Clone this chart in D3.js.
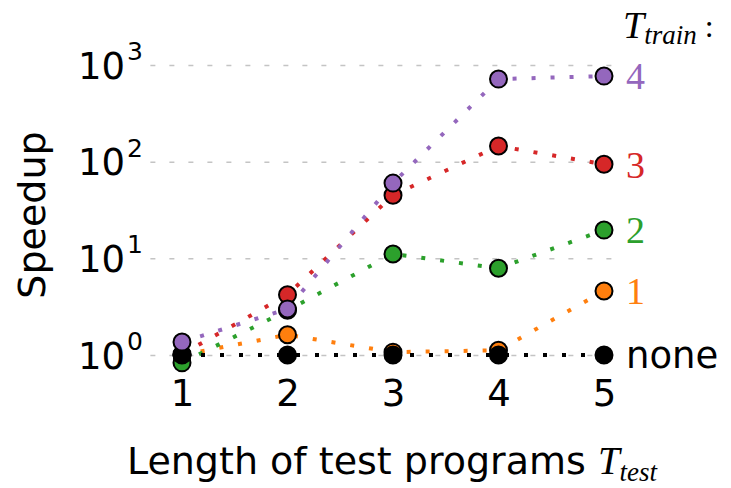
<!DOCTYPE html>
<html>
<head>
<meta charset="utf-8">
<script src="https://cdn.jsdelivr.net/npm/d3@7"></script>
<style>
  body { margin: 0; background: #fff; }
  svg { display: block; }
  .sans { font-family: "DejaVu Sans", sans-serif; }
  .serif { font-family: "Liberation Serif", "DejaVu Serif", serif; }
</style>
</head>
<body>
<svg id="chart" width="731" height="488"></svg>
<script>
// test program lengths
var lengths = [1, 2, 3, 4, 5];

// speedup per training length
var none = [1, 1, 1, 1, 1];
var train1 = [1.0, 1.62, 1.07, 1.12, 4.6];
var train2 = [0.83, 2.9, 11.1, 7.9, 19.6];
var train3 = [1.02, 4.2, 45, 145, 94];
var train4 = [1.36, 3.0, 60, 715, 768];

var yTicks = [1, 10, 100, 1000];
var seriesLabels = ["1", "2", "3", "none", "4"];
var seriesColors = ["#ff7f0e", "#2ca02c", "#d62728", "#000000", "#9467bd"];
var seriesValues = [train1, train2, train3, none, train4];

var svg = d3.select("#chart");

var x = d3.scaleLinear().domain([1, 5]).range([182, 604]);
var y = d3.scaleLog().domain([1, 1000]).range([355, 65]);

// grid
var grid = svg.append("g")
    .attr("transform", "translate(" + x(5.07) + ",0)")
    .call(d3.axisLeft(y).tickValues(yTicks).tickSize(x(5.07) - 148).tickFormat(""));
grid.select(".domain").remove();
grid.selectAll("line")
    .attr("stroke", "#c4c4c4")
    .attr("stroke-width", 1.5)
    .attr("stroke-dasharray", "5 14");

// y axis
var yAxis = svg.append("g")
    .attr("transform", "translate(150,0)")
    .call(d3.axisLeft(y).tickValues(yTicks).tickSize(0).tickPadding(7).tickFormat(""));
yAxis.select(".domain").remove();
yAxis.selectAll("text").each(function(d) {
    var t = d3.select(this)
        .attr("class", "sans")
        .attr("font-size", 37)
        .attr("fill", "#000")
        .attr("dy", "0.36em");
    t.append("tspan").text("10");
    t.append("tspan")
        .attr("font-size", 25)
        .attr("dx", 2)
        .attr("dy", "-0.75em")
        .text(Math.round(Math.log10(d)));
});

// x axis
var xAxis = svg.append("g")
    .attr("transform", "translate(0,371)")
    .call(d3.axisBottom(x).tickValues(lengths).tickSize(0).tickPadding(9).tickFormat(d3.format("d")));
xAxis.select(".domain").remove();
xAxis.selectAll("text")
    .attr("class", "sans")
    .attr("font-size", 37)
    .attr("fill", "#000");

// axis titles
svg.append("text")
    .attr("class", "sans")
    .attr("font-size", 38)
    .attr("text-anchor", "middle")
    .attr("transform", "translate(45,215) rotate(-90)")
    .text("Speedup");

var xt = svg.append("text")
    .attr("class", "sans")
    .attr("font-size", 38)
    .attr("text-anchor", "middle")
    .attr("x", 392)
    .attr("y", 474);
xt.append("tspan").text("Length of test programs ");
xt.append("tspan").attr("class", "serif").attr("font-style", "italic").attr("font-size", 39).text("T");
xt.append("tspan").attr("class", "serif").attr("font-style", "italic").attr("font-size", 27).attr("dy", 7).text("test");

// series
var line = d3.line()
    .x(function(d, i) { return x(lengths[i]); })
    .y(function(d) { return y(d); });

seriesValues.forEach(function(vals, k) {
    var g = svg.append("g");
    g.append("path")
        .attr("d", line(vals))
        .attr("fill", "none")
        .attr("stroke", seriesColors[k])
        .attr("stroke-width", 4)
        .attr("stroke-dasharray", "4 15");
    g.selectAll("circle")
        .data(vals)
        .enter()
        .append("circle")
        .attr("cx", function(d, i) { return x(lengths[i]); })
        .attr("cy", function(d) { return y(d); })
        .attr("r", 8.5)
        .attr("fill", seriesColors[k])
        .attr("stroke", "#000")
        .attr("stroke-width", 2);

    svg.append("text")
        .attr("class", seriesLabels[k] === "none" ? "sans" : "serif")
        .attr("font-size", seriesLabels[k] === "none" ? 37 : 38)
        .attr("fill", seriesColors[k])
        .attr("x", 626)
        .attr("y", y(vals[4]))
        .attr("dy", "0.35em")
        .text(seriesLabels[k]);
});

// legend title
var lt = svg.append("text")
    .attr("class", "serif")
    .attr("font-style", "italic")
    .attr("x", 623)
    .attr("y", 38);
lt.append("tspan").attr("font-size", 38).text("T");
lt.append("tspan").attr("font-size", 27).attr("dy", 6).text("train");
lt.append("tspan").attr("font-size", 32).attr("font-style", "normal").attr("dx", 8).attr("dy", -7).text(":");
</script>
</body>
</html>
